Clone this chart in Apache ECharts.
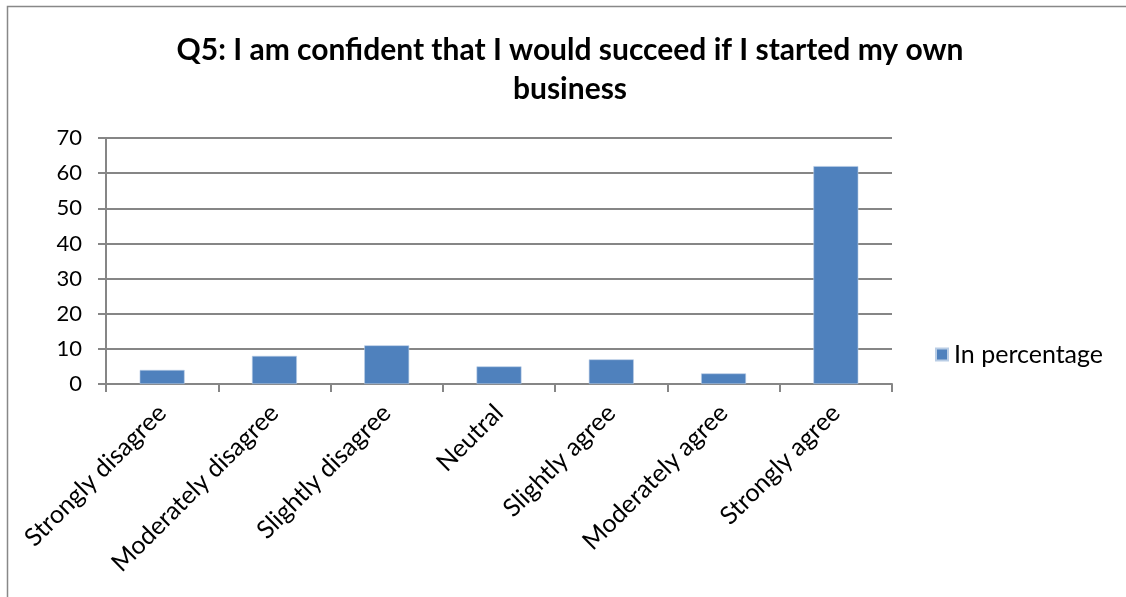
<!DOCTYPE html>
<html>
<head>
<meta charset="utf-8">
<script src="https://cdn.jsdelivr.net/npm/echarts@6/dist/echarts.min.js"></script>
<style>
  html, body { margin: 0; padding: 0; background: #ffffff; }
  #chart { width: 1126px; height: 597px; }
</style>
</head>
<body>
<div id="chart"></div>
<script>
// Survey responses, in percent of respondents
const categories = [
  'Strongly disagree',
  'Moderately disagree',
  'Slightly disagree',
  'Neutral',
  'Slightly agree',
  'Moderately agree',
  'Strongly agree'
];
const inPercentage = [4, 8, 11, 5, 7, 3, 62];
const seriesName = 'In percentage';
const titleText = 'Q5: I am confident that I would succeed if I started my own\nbusiness';

const fontFamily = 'Lato, "Open Sans", sans-serif';
const gridColor = '#868686';

const chart = echarts.init(document.getElementById('chart'), null, { renderer: 'canvas' });

chart.setOption({
  animation: false,
  backgroundColor: '#ffffff',
  graphic: [{
    type: 'rect',
    shape: { x: 7.5, y: 6.5, width: 1200, height: 700 },
    style: { fill: 'none', stroke: '#888888', lineWidth: 1.5 },
    silent: true
  }],
  title: {
    text: titleText,
    left: 570,
    textAlign: 'center',
    top: 31,
    padding: 0,
    textStyle: {
      fontFamily: fontFamily,
      fontSize: 30,
      fontWeight: 'bold',
      color: '#000000',
      lineHeight: 39
    }
  },
  legend: {
    data: [seriesName],
    orient: 'vertical',
    left: 935,
    top: 342,
    padding: 0,
    itemWidth: 12,
    itemHeight: 12,
    itemGap: 8,
    icon: 'rect',
    textStyle: { fontFamily: fontFamily, fontSize: 25, color: '#000000', padding: [0, 0, 0, 1] }
  },
  grid: {
    left: 106,
    right: 234,
    top: 138,
    bottom: 213,
    containLabel: false
  },
  xAxis: {
    type: 'category',
    data: categories,
    boundaryGap: true,
    axisLine: { show: true, lineStyle: { color: gridColor, width: 2 } },
    axisTick: { show: true, alignWithLabel: false, length: 8, lineStyle: { color: gridColor, width: 2 } },
    axisLabel: {
      rotate: 45,
      interval: 0,
      margin: 25,
      fontFamily: fontFamily,
      fontSize: 25,
      color: '#000000'
    },
    splitLine: { show: false }
  },
  yAxis: {
    type: 'value',
    min: 0,
    max: 70,
    interval: 10,
    axisLine: { show: true, lineStyle: { color: gridColor, width: 2 } },
    axisTick: { show: true, length: 8, lineStyle: { color: gridColor, width: 2 } },
    axisLabel: {
      margin: 24,
      fontFamily: fontFamily,
      fontSize: 22,
      color: '#000000'
    },
    splitLine: { show: true, lineStyle: { color: gridColor, width: 2 } }
  },
  series: [{
    name: seriesName,
    type: 'bar',
    data: inPercentage,
    barWidth: '40%',
    itemStyle: { color: '#4F81BD', borderColor: '#B9CDE5', borderWidth: 0.6 }
  }]
});
</script>
</body>
</html>
